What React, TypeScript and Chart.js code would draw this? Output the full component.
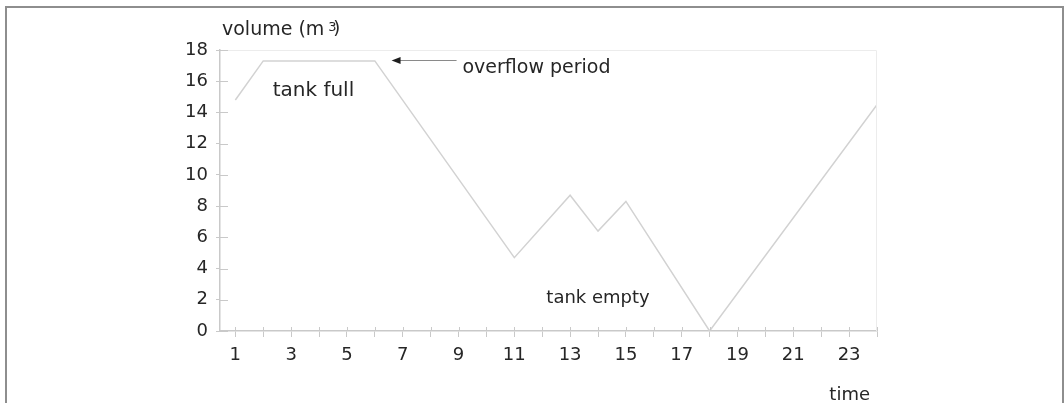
import React, { useEffect, useRef } from 'react';
import { Chart, registerables } from 'chart.js';

Chart.register(...registerables);

// ---- data ----
const hours = [1, 2, 6, 11, 13, 14, 15, 18, 24];
const volume = [14.8, 17.3, 17.3, 4.7, 8.7, 6.4, 8.3, 0, 14.5];
const yTicks = [0, 2, 4, 6, 8, 10, 12, 14, 16, 18];
const xTickMarks = [1, 2, 3, 4, 5, 6, 7, 8, 9, 10, 11, 12, 13, 14, 15, 16, 17, 18, 19, 20, 21, 22, 23, 24];
const xTickLabels = [1, 3, 5, 7, 9, 11, 13, 15, 17, 19, 21, 23];
const noteTexts = ['tank full', 'tank empty', 'overflow period'];
const noteX = [3.8, 14.0, 9.14];
const noteY = [15.05, 1.77, 16.53];
const noteAlign = ['center', 'center', 'left'];
const noteSize = [20, 18, 19];
const arrowFromX = 8.93;
const arrowToX = 6.6;
const arrowY = 17.36;

const FONT = '"DejaVu Sans", sans-serif';
const TEXT = '#262626';
const AXIS = '#c9c9c9';

const overlay = {
  id: 'overlay',
  afterDraw(chart: any) {
    const { ctx, chartArea } = chart;
    const xs = chart.scales.x;
    const ys = chart.scales.y;
    ctx.save();
    // faint plot frame top/right
    ctx.strokeStyle = '#ececec';
    ctx.lineWidth = 1;
    ctx.beginPath();
    ctx.moveTo(chartArea.left, chartArea.top + 0.5);
    ctx.lineTo(chartArea.right - 0.5, chartArea.top + 0.5);
    ctx.lineTo(chartArea.right - 0.5, chartArea.bottom);
    ctx.stroke();
    // inner tick parts
    ctx.strokeStyle = AXIS;
    ctx.lineWidth = 1;
    ys.ticks.forEach((t: any) => {
      const y = Math.round(ys.getPixelForValue(t.value)) + 0.5;
      ctx.beginPath();
      ctx.moveTo(chartArea.left, y);
      ctx.lineTo(chartArea.left + 8, y);
      ctx.stroke();
    });
    xs.ticks.forEach((t: any) => {
      const x = Math.round(xs.getPixelForValue(t.value)) + 0.5;
      ctx.beginPath();
      ctx.moveTo(x, chartArea.bottom);
      ctx.lineTo(x, chartArea.bottom - 4);
      ctx.stroke();
    });
    // annotations
    ctx.fillStyle = TEXT;
    ctx.textBaseline = 'alphabetic';
    noteTexts.forEach((txt, i) => {
      ctx.font = `${noteSize[i]}px ${FONT}`;
      ctx.textAlign = noteAlign[i] as CanvasTextAlign;
      ctx.fillText(txt, xs.getPixelForValue(noteX[i]), ys.getPixelForValue(noteY[i]));
    });
    // arrow
    const ax1 = xs.getPixelForValue(arrowFromX);
    const ax2 = xs.getPixelForValue(arrowToX);
    const ay = Math.round(ys.getPixelForValue(arrowY)) + 0.5;
    ctx.strokeStyle = '#8a8a8a';
    ctx.lineWidth = 1;
    ctx.beginPath();
    ctx.moveTo(ax1, ay);
    ctx.lineTo(ax2 + 8, ay);
    ctx.stroke();
    ctx.fillStyle = '#1e1e1e';
    ctx.beginPath();
    ctx.moveTo(ax2, ay);
    ctx.lineTo(ax2 + 9, ay - 3.5);
    ctx.lineTo(ax2 + 9, ay + 3.5);
    ctx.closePath();
    ctx.fill();
    // axis titles
    ctx.fillStyle = TEXT;
    ctx.textAlign = 'left';
    ctx.font = `19px ${FONT}`;
    const tx = chartArea.left + 2;
    const ty = chartArea.top - 15;
    ctx.fillText('volume (m', tx, ty);
    const w = ctx.measureText('volume (m').width;
    ctx.font = `13px ${FONT}`;
    ctx.fillText('3', tx + w + 4, ty - 4);
    ctx.font = `18px ${FONT}`;
    ctx.fillText(')', tx + w + 9, ty - 1);
    ctx.textAlign = 'right';
    ctx.fillText('time', chartArea.right - 7, chartArea.bottom + 69);
    ctx.restore();
  },
};

export default function App() {
  const ref = useRef<HTMLCanvasElement | null>(null);
  useEffect(() => {
    if (!ref.current) return;
    const chart = new Chart(ref.current, {
      type: 'line',
      data: {
        datasets: [
          {
            data: hours.map((h, i) => ({ x: h, y: volume[i] })),
            borderColor: '#d2d2d2',
            borderWidth: 1.5,
            pointRadius: 0,
            tension: 0,
            fill: false,
          },
        ],
      },
      options: {
        animation: false,
        responsive: false,
        maintainAspectRatio: false,
        layout: { padding: { left: 0, top: 50, right: 187, bottom: 0 } },
        plugins: { legend: { display: false }, tooltip: { enabled: false } },
        scales: {
          x: {
            type: 'linear',
            min: 0.45,
            max: 24,
            afterBuildTicks: (s: any) => {
              s.ticks = xTickMarks.map((v) => ({ value: v }));
            },
            afterFit: (s: any) => {
              s.height = 72;
            },
            ticks: {
              autoSkip: false,
              maxRotation: 0,
              padding: 8,
              color: TEXT,
              font: { family: FONT, size: 18 },
              callback: (v: any) => (xTickLabels.includes(Number(v)) ? String(v) : ''),
            },
            grid: { drawOnChartArea: false, drawTicks: true, tickLength: 6, color: AXIS, lineWidth: 1 },
            border: { display: true, color: AXIS, width: 1.5 },
          },
          y: {
            min: 0,
            max: 18,
            afterBuildTicks: (s: any) => {
              s.ticks = yTicks.map((v) => ({ value: v }));
            },
            afterFit: (s: any) => {
              s.width = 220;
            },
            ticks: {
              padding: 8,
              color: TEXT,
              font: { family: FONT, size: 18 },
              callback: (v: any) => String(v),
            },
            grid: { drawOnChartArea: false, drawTicks: true, tickLength: 4, color: AXIS, lineWidth: 1 },
            border: { display: true, color: AXIS, width: 1.5 },
          },
        },
      },
      plugins: [overlay],
    });
    return () => chart.destroy();
  }, []);
  return (
    <div style={{ position: 'absolute', left: 0, top: 0, width: 1064, height: 403, background: '#fff', overflow: 'hidden' }}>
      <canvas ref={ref} width={1064} height={403} style={{ display: 'block' }} />
      <div
        style={{
          position: 'absolute',
          left: 5,
          top: 6,
          width: 1059,
          height: 500,
          border: '2px solid #8e8e8e',
          boxSizing: 'border-box',
          pointerEvents: 'none',
        }}
      />
    </div>
  );
}
